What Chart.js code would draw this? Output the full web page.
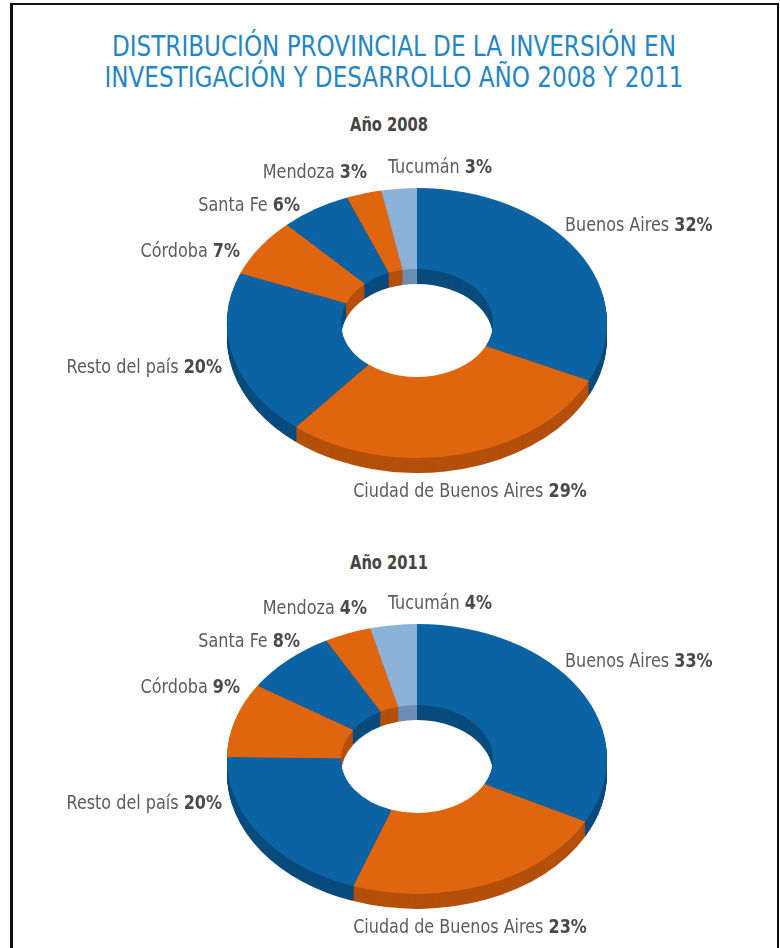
<!DOCTYPE html>
<html>
<head>
<meta charset="utf-8">
<script src="https://cdn.jsdelivr.net/npm/chart.js@4.4.1/dist/chart.umd.min.js"></script>
<style>
body{margin:0;background:#fff;width:780px;height:948px;overflow:hidden;position:relative;font-family:"Liberation Sans Narrow","DejaVu Sans Condensed",sans-serif;}
#frame{position:absolute;left:10px;top:3px;width:764px;height:980px;border:2px solid #111;border-left-width:3px;}
#title{position:absolute;left:4px;top:31px;width:780px;text-align:center;color:#1f87c6;font-size:29px;line-height:31px;transform:scaleX(0.885);}
.year{position:absolute;left:0;width:778px;text-align:center;color:#454545;font-weight:bold;font-size:19px;line-height:20px;transform:scaleX(0.86);}
canvas{position:absolute;left:0}
</style>
</head>
<body>
<div id="frame"></div>
<div id="title">DISTRIBUCIÓN PROVINCIAL DE LA INVERSIÓN EN<br>INVESTIGACIÓN Y DESARROLLO AÑO 2008 Y 2011</div>
<div class="year" style="top:114px">Año 2008</div>
<div class="year" style="top:552px">Año 2011</div>
<canvas id="c2008" width="780" height="440" style="top:100px"></canvas>
<canvas id="c2011" width="780" height="410" style="top:540px"></canvas>
<script>
const provinces = ['Buenos Aires', 'Ciudad de Buenos Aires', 'Resto del país', 'Córdoba', 'Santa Fe', 'Mendoza', 'Tucumán'];
const share2008 = [32, 29, 20, 7, 6, 3, 3];
const share2011 = [33, 23, 20, 9, 8, 4, 4];

const topColors = ['#0c63a4', '#e0650f', '#0c63a4', '#e0650f', '#0c63a4', '#e0650f', '#8db2d9'];
const sideColors = ['#094b7c', '#b4500b', '#094b7c', '#b4500b', '#094b7c', '#b4500b', '#6d8db2'];

// where each label sits, relative to the doughnut centre
const labelSpots = [
    ['left', 148, -97],
    ['center', 53, 169],
    ['right', -195, 45],
    ['right', -177, -71],
    ['right', -117, -117],
    ['right', -50, -150],
    ['left', -29, -155]
];

const tilt = 0.71;
const depth = 15;
const fontFam = '"Liberation Sans Narrow", "DejaVu Sans Condensed", sans-serif';
const labelSize = 20;
const squeeze = 0.89;

function arcPath(ctx, a) {
    ctx.beginPath();
    ctx.arc(a.x, a.y, a.outerRadius, a.startAngle, a.endAngle);
    ctx.arc(a.x, a.y, a.innerRadius, a.endAngle, a.startAngle, true);
    ctx.closePath();
}

const pie3d = {
    id: 'pie3d',
    beforeDatasetDraw(chart, args) {
        const ctx = chart.ctx;
        const arcs = args.meta.data;
        const cx = arcs[0].x, cy = arcs[0].y;
        for (let d = depth; d >= 1; d--) {
            ctx.save();
            ctx.translate(cx, cy + d);
            ctx.scale(1, tilt);
            ctx.translate(-cx, -cy);
            arcs.forEach((a, i) => {
                arcPath(ctx, a);
                ctx.fillStyle = sideColors[i];
                ctx.fill();
            });
            ctx.restore();
        }
        ctx.save();
        ctx.translate(cx, cy);
        ctx.scale(1, tilt);
        ctx.translate(-cx, -cy);
    },
    afterDatasetDraw(chart) {
        chart.ctx.restore();
    },
    afterDraw(chart) {
        const ctx = chart.ctx;
        const arcs = chart.getDatasetMeta(0).data;
        const cx = arcs[0].x, cy = arcs[0].y;
        const vals = chart.data.datasets[0].data;
        const reg = labelSize + 'px ' + fontFam;
        const bold = 'bold ' + labelSize + 'px ' + fontFam;
        ctx.save();
        ctx.textBaseline = 'middle';
        ctx.textAlign = 'left';
        chart.data.labels.forEach((name, i) => {
            const spot = labelSpots[i];
            const pct = vals[i] + '%';
            ctx.font = reg;
            const w1 = ctx.measureText(name + ' ').width;
            ctx.font = bold;
            const w2 = ctx.measureText(pct).width;
            const total = (w1 + w2) * squeeze;
            let x = cx + spot[1];
            const y = cy + spot[2];
            if (spot[0] === 'right') x -= total;
            if (spot[0] === 'center') x -= total / 2;
            ctx.save();
            ctx.translate(x, y);
            ctx.scale(squeeze, 1);
            ctx.font = reg;
            ctx.fillStyle = '#5c5c5c';
            ctx.fillText(name + ' ', 0, 0);
            ctx.font = bold;
            ctx.fillStyle = '#4a4a4a';
            ctx.fillText(pct, w1, 0);
            ctx.restore();
        });
        ctx.restore();
    }
};

function makeDonut(id, values, pad) {
    return new Chart(document.getElementById(id), {
        type: 'doughnut',
        data: {
            labels: provinces,
            datasets: [{
                data: values,
                backgroundColor: topColors,
                borderWidth: 0,
                clip: false
            }]
        },
        options: {
            responsive: false,
            animation: false,
            cutout: '40%',
            layout: {padding: pad},
            plugins: {
                legend: {display: false},
                tooltip: {enabled: false}
            }
        },
        plugins: [pie3d]
    });
}

makeDonut('c2008', share2008, {left: 227, right: 173, top: 33, bottom: 27});
makeDonut('c2011', share2011, {left: 227, right: 173, top: 29, bottom: 1});
</script>
</body>
</html>
